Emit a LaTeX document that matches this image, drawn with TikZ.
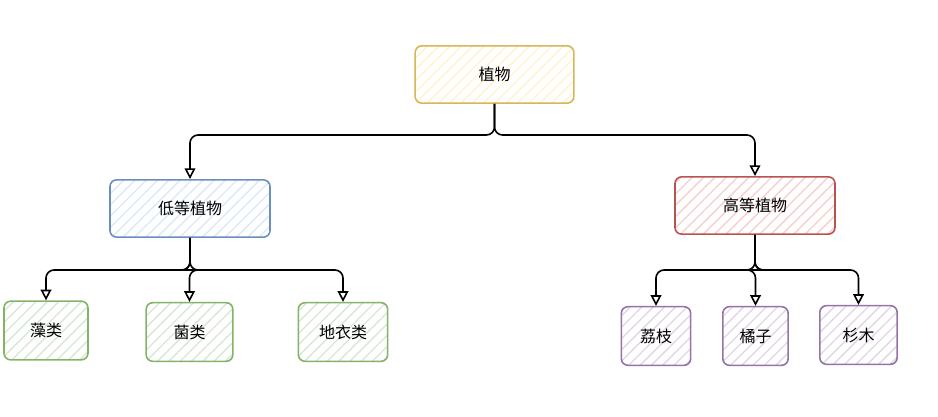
\documentclass[tikz,border=0pt]{standalone}
\usepackage{fontspec}
\setmainfont{Noto Sans CJK SC}
\usetikzlibrary{arrows.meta, patterns.meta}
\definecolor{RootLine}{HTML}{D6B656}
\definecolor{RootFill}{HTML}{FFF2CC}
\definecolor{LowLine}{HTML}{6C8EBF}
\definecolor{LowFill}{HTML}{DAE8FC}
\definecolor{HighLine}{HTML}{B85450}
\definecolor{HighFill}{HTML}{F8CECC}
\definecolor{LeafGreen}{HTML}{82B366}
\definecolor{LeafGreenFill}{HTML}{D5E8D4}
\definecolor{LeafPurple}{HTML}{9673A6}
\definecolor{LeafPurpleFill}{HTML}{E1D5E7}
\tikzset{
  box/.style={rounded corners=5pt, line width=1.2pt, align=center, inner sep=0pt,
    font=\fontsize{12}{14}\selectfont,
    pattern={Lines[angle=45, distance=6pt, line width=1pt]}},
  rootbox/.style={box, draw=RootLine, pattern color=RootFill, minimum width=119pt, minimum height=43pt},
  lowbox/.style={box, draw=LowLine, pattern color=LowFill, minimum width=120pt, minimum height=43pt},
  highbox/.style={box, draw=HighLine, pattern color=HighFill, minimum width=120pt, minimum height=43pt},
  greenbox/.style={box, draw=LeafGreen, pattern color=LeafGreenFill, minimum height=44pt},
  purplebox/.style={box, draw=LeafPurple, pattern color=LeafPurpleFill, minimum height=44pt},
  edge/.style={line width=1.2pt, rounded corners=6pt, -{Triangle[open, width=8pt, length=8pt]}}
}
\begin{document}
\begin{tikzpicture}[x=0.75pt, y=-0.75pt]
\useasboundingbox (0,0) rectangle (938,417);
% levels
\node[rootbox] (plant) at (494.5,74.5) {植物};
\node[lowbox] (lower) at (190,208.5) {低等植物};
\node[highbox] (higher) at (755,205.5) {高等植物};
% leaves
\node[greenbox, minimum width=63pt] (algae) at (46,330.5) {藻类};
\node[greenbox, minimum width=65pt] (fungi) at (189.5,332) {菌类};
\node[greenbox, minimum width=67pt] (lichen) at (343,332) {地衣类};
\node[purplebox, minimum width=52pt] (lychee) at (656,336) {荔枝};
\node[purplebox, minimum width=49pt] (orange) at (755.5,336) {橘子};
\node[purplebox, minimum width=58pt] (fir) at (858.5,335) {杉木};
% bus lines
\coordinate (topbus) at (0,135);
\coordinate (lowbus) at (0,270);
\coordinate (highbus) at (0,270);
\draw[edge] (plant.south) -- (plant.south |- topbus) -| (lower.north);
\draw[edge] (plant.south) -- (plant.south |- topbus) -| (higher.north);
\foreach \leaf in {algae, fungi, lichen}
  \draw[edge] (lower.south) -- (lower.south |- lowbus) -| (\leaf.north);
\foreach \leaf in {lychee, orange, fir}
  \draw[edge] (higher.south) -- (higher.south |- highbus) -| (\leaf.north);
\end{tikzpicture}
\end{document}
